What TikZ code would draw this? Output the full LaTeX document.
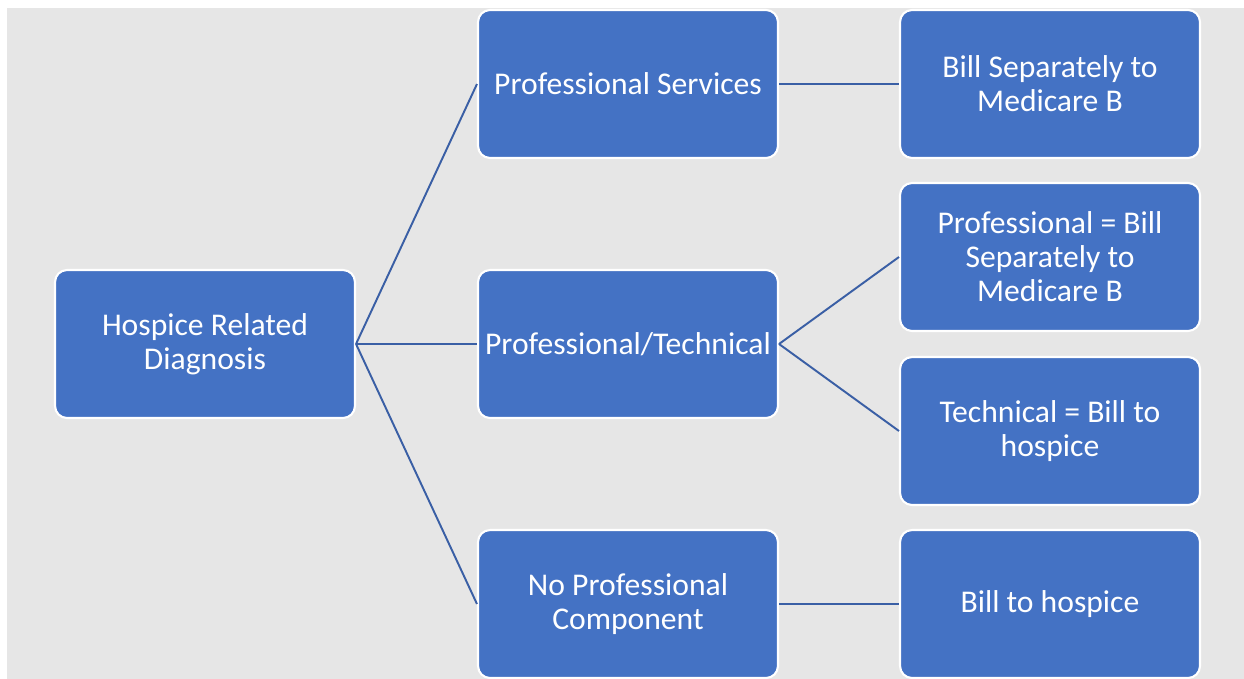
\documentclass[tikz,border=0pt]{standalone}
\usepackage{fontspec}
\setmainfont{Carlito}
\definecolor{boxblue}{HTML}{4472C4}
\definecolor{linkblue}{HTML}{3A5FA5}
\definecolor{bggray}{HTML}{E6E6E6}
\begin{document}
\begin{tikzpicture}[x=0.02cm,y=-0.02cm,
  box/.style={draw=white,line width=1.2pt,fill=boxblue,rounded corners=0.24cm,
    minimum width=6cm,minimum height=2.96cm,align=center,text=white,
    font=\fontsize{18}{19.4}\selectfont,inner sep=0pt},
  link/.style={draw=linkblue,line width=1.1pt}]
\useasboundingbox (0,0) rectangle (1244,679);
\fill[white] (0,0) rectangle (1244,679);
\fill[bggray] (7,8) rectangle (1244,679);
\node[box] (root) at (205,344) {Hospice Related\\Diagnosis};
\node[box] (ps) at (628,84) {Professional Services};
\node[box] (pt) at (628,344) {Professional/Technical};
\node[box] (np) at (628,604) {No Professional\\Component};
\node[box] (bs) at (1050,84) {Bill Separately to\\Medicare B};
\node[box] (pb) at (1050,257) {Professional = Bill\\Separately to\\Medicare B};
\node[box] (tb) at (1050,431) {Technical = Bill to\\hospice};
\node[box] (bh) at (1050,604) {Bill to hospice};
\draw[link] (root.east) -- (ps.west);
\draw[link] (root.east) -- (pt.west);
\draw[link] (root.east) -- (np.west);
\draw[link] (ps.east) -- (bs.west);
\draw[link] (pt.east) -- (pb.west);
\draw[link] (pt.east) -- (tb.west);
\draw[link] (np.east) -- (bh.west);
\end{tikzpicture}
\end{document}
